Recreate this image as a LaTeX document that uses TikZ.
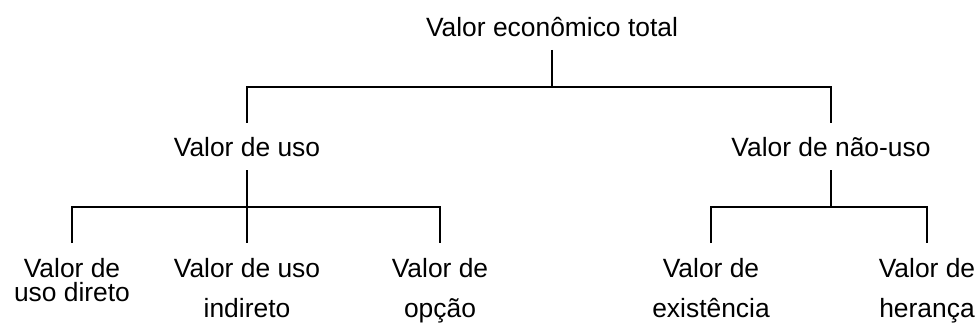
\documentclass[tikz,border=0pt]{standalone}
\usepackage{fontspec}
\setmainfont{Liberation Sans}
\begin{document}
\begin{tikzpicture}[x=1pt,y=-1pt,
  lbl/.style={font=\fontsize{26.4}{24}\selectfont, inner sep=0pt, anchor=base, align=center},
  conn/.style={line width=2pt}]
\useasboundingbox (0,0) rectangle (977,326);
% nodes (multi-line nodes: base = baseline of last line)
\node[lbl] (top)  at (552,37)  {Valor econômico total};
\node[lbl] (uso)  at (247,157) {Valor de uso};
\node[lbl] (nuso) at (831,157) {Valor de não-uso};
\node[lbl] (l1) at (72,301)  {Valor de\\uso direto};
\node[lbl] (l2) at (247,317) {Valor de uso\\[16pt]indireto};
\node[lbl] (l3) at (440,317) {Valor de\\[16pt]opção};
\node[lbl] (r1) at (711,317) {Valor de\\[16pt]existência};
\node[lbl] (r2) at (927,317) {Valor de\\[16pt]herança};
% junctions
\coordinate (j0) at (552,87);
\coordinate (j1) at (247,207);
\coordinate (j2) at (831,207);
% connectors
\draw[conn] ([yshift=-13pt]top.base) -- (j0);
\draw[conn] ([yshift=34pt]uso.base) |- (j0) -| ([yshift=34pt]nuso.base);
\draw[conn] ([yshift=-13pt]uso.base) -- (j1);
\draw[conn] ([yshift=58pt]l1.base) |- (j1) -| ([yshift=74pt]l3.base);
\draw[conn] (j1) -- ([yshift=74pt]l2.base);
\draw[conn] ([yshift=-13pt]nuso.base) -- (j2);
\draw[conn] ([yshift=74pt]r1.base) |- (j2) -| ([yshift=74pt]r2.base);
\end{tikzpicture}
\end{document}
